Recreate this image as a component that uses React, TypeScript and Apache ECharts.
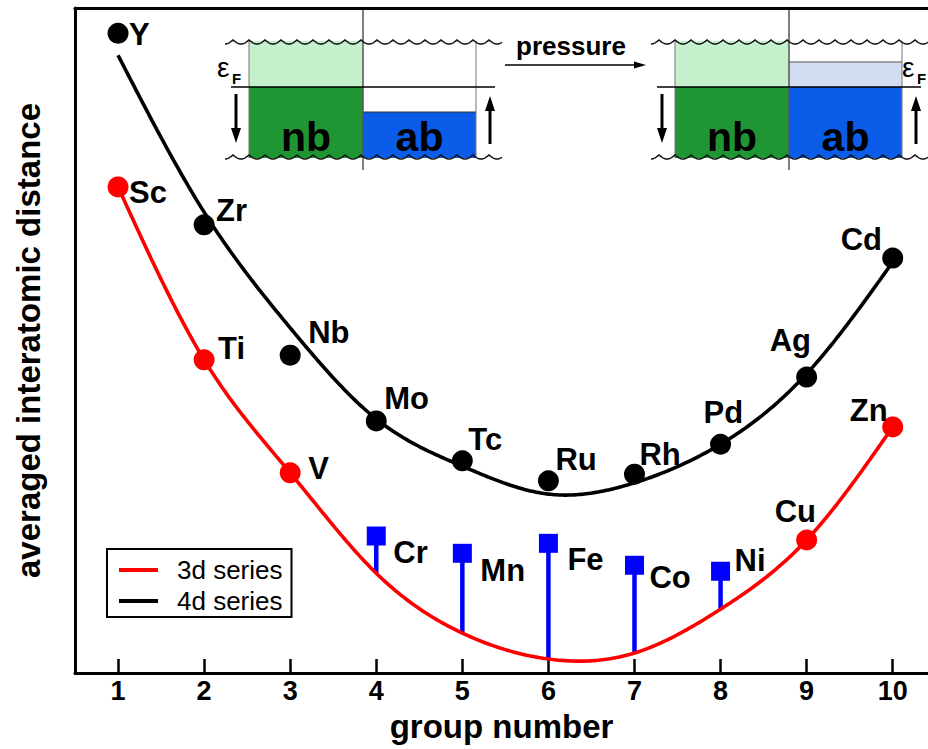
import React, { useEffect, useRef } from "react";
import * as echarts from "echarts";

// ---- data (arbitrary units of averaged interatomic distance) ----
const groups = [1, 2, 3, 4, 5, 6, 7, 8, 9, 10];
const tickLabels = ["1", "2", "3", "4", "5", "6", "7", "8", "9", "10"];

// measured points
const d4Names = ["Y", "Zr", "Nb", "Mo", "Tc", "Ru", "Rh", "Pd", "Ag", "Cd"];
const d4Values = [96.2, 67.4, 47.8, 37.9, 31.9, 28.9, 29.9, 34.4, 44.5, 62.4];

const d3Names = ["Sc", "Ti", "V", "Cu", "Zn"];
const d3Groups = [1, 2, 3, 9, 10];
const d3Values = [73.1, 47.1, 30.1, 20.0, 37.0];

const magNames = ["Cr", "Mn", "Fe", "Co", "Ni"];
const magGroups = [4, 5, 6, 7, 8];
const magValues = [20.6, 18.0, 19.5, 16.2, 15.3];

// trend curves (read at each group number)
const d4Fit = [92.9, 69.3, 51.9, 38.2, 31.1, 26.9, 28.6, 34.4, 45.0, 61.8];
const d3Fit = [73.1, 47.1, 30.1, 15.0, 6.0, 2.1, 3.0, 9.6, 20.0, 37.0];

// label placement: [left edge of text relative to marker centre, vertical shift]
const d4LabelPos: Record<string, [number, number]> = {
  Y: [11, 0], Zr: [12, -15], Nb: [18, -24], Mo: [8, -23], Tc: [6, -22],
  Ru: [7, -22], Rh: [5, -21], Pd: [-17, -33], Ag: [-37, -38], Cd: [-52, -20],
};
const d3LabelPos: Record<string, [number, number]> = {
  Sc: [11, 5], Ti: [14, -12], V: [18, -5], Cu: [-32, -30], Zn: [-43, -17],
};
const magLabelPos: Record<string, [number, number]> = {
  Cr: [17, 15], Mn: [18, 16], Fe: [19, 15], Co: [15, 11], Ni: [14, -12],
};

const FONT = "'Liberation Sans', Arial, Helvetica, sans-serif";
const RED = "#ff0000";
const BLUE = "#0000ff";
const X_MIN = 0.5;
const X_MAX = 10.41;

// natural cubic spline through pixel points (x increasing), sampled for drawing
function splinePath(px: number[][]) {
  const n = px.length;
  const xs = px.map((p) => p[0]);
  const ys = px.map((p) => p[1]);
  const h: number[] = [];
  const al: number[] = [0];
  const l: number[] = [1];
  const mu: number[] = [0];
  const z: number[] = [0];
  for (let i = 0; i < n - 1; i++) h[i] = xs[i + 1] - xs[i];
  for (let i = 1; i < n - 1; i++) al[i] = (3 / h[i]) * (ys[i + 1] - ys[i]) - (3 / h[i - 1]) * (ys[i] - ys[i - 1]);
  for (let i = 1; i < n - 1; i++) {
    l[i] = 2 * (xs[i + 1] - xs[i - 1]) - h[i - 1] * mu[i - 1];
    mu[i] = h[i] / l[i];
    z[i] = (al[i] - h[i - 1] * z[i - 1]) / l[i];
  }
  const c = new Array(n).fill(0);
  const b: number[] = [];
  const d: number[] = [];
  for (let j = n - 2; j >= 0; j--) {
    c[j] = z[j] - mu[j] * c[j + 1];
    b[j] = (ys[j + 1] - ys[j]) / h[j] - (h[j] * (c[j + 1] + 2 * c[j])) / 3;
    d[j] = (c[j + 1] - c[j]) / (3 * h[j]);
  }
  const out: number[][] = [];
  for (let j = 0; j < n - 1; j++) {
    for (let t = 0; t < h[j]; t += 2) out.push([xs[j] + t, ys[j] + b[j] * t + c[j] * t * t + d[j] * t * t * t]);
  }
  out.push([xs[n - 1], ys[n - 1]]);
  return out;
}

function curveSeries(name: string, values: number[], color: string) {
  return {
    name,
    type: "custom",
    z: 3,
    itemStyle: { color },
    data: groups.map((g, i) => [g, values[i]]),
    renderItem: (params: any, api: any) => {
      if (params.dataIndex !== 0) return null;
      const pts: number[][] = [];
      for (let k = 0; k < groups.length; k++) pts.push(api.coord([api.value(0, k), api.value(1, k)]));
      return {
        type: "polyline",
        shape: { points: splinePath(pts) },
        style: { stroke: color, lineWidth: 3.6, fill: null, lineJoin: "round" },
      };
    },
  };
}

function wave(x0: number, x1: number, y0: number) {
  const pts: number[][] = [];
  const P = 16;
  const A = 4;
  for (let x = x0; x <= x1; x += 0.5) {
    pts.push([x, y0 + A * Math.abs(Math.sin((Math.PI * (x - x0 - 8)) / P))]);
  }
  return pts;
}

function arrow(x: number, yFrom: number, yTo: number) {
  const dir = yTo > yFrom ? 1 : -1;
  return [
    { type: "line", shape: { x1: x, y1: yFrom, x2: x, y2: yTo - dir * 12 }, style: { stroke: "#000", lineWidth: 3 } },
    { type: "polygon", shape: { points: [[x - 5, yTo - dir * 15], [x + 5, yTo - dir * 15], [x, yTo]] }, style: { fill: "#000" } },
  ];
}

function diagram(dx: number, pressed: boolean, epsX: number) {
  const L = 249 + dx, M = 363 + dx, R = 476 + dx;
  const els: any[] = [];
  els.push({ type: "rect", shape: { x: L, y: 41, width: M - L, height: 46 }, style: { fill: "#c4f0cc" } });
  els.push({ type: "rect", shape: { x: L, y: 87, width: M - L, height: 71 }, style: { fill: "#1f9633" } });
  if (pressed) {
    els.push({ type: "rect", shape: { x: M, y: 62, width: R - M, height: 25 }, style: { fill: "#d3ddf2" } });
    els.push({ type: "line", shape: { x1: M, y1: 62, x2: R, y2: 62 }, style: { stroke: "#888", lineWidth: 1.5 } });
    els.push({ type: "rect", shape: { x: M, y: 87, width: R - M, height: 71 }, style: { fill: "#0b5ce8" } });
  } else {
    els.push({ type: "rect", shape: { x: M, y: 112, width: R - M, height: 46 }, style: { fill: "#0b5ce8" } });
    els.push({ type: "line", shape: { x1: M, y1: 112, x2: R, y2: 112 }, style: { stroke: "#333", lineWidth: 1.2 } });
  }
  els.push({ type: "line", shape: { x1: L, y1: 41, x2: L, y2: 158 }, style: { stroke: "#777", lineWidth: 1 } });
  els.push({ type: "line", shape: { x1: R, y1: 41, x2: R, y2: 158 }, style: { stroke: "#777", lineWidth: 1 } });
  els.push({ type: "line", shape: { x1: M, y1: 8, x2: M, y2: 170 }, style: { stroke: "#555", lineWidth: 1.5 } });
  els.push({ type: "line", shape: { x1: 231 + dx, y1: 87, x2: 495 + dx, y2: 87 }, style: { stroke: "#000", lineWidth: 1.5 } });
  const wEnd = Math.min(502 + dx, 930);
  els.push({ type: "polyline", shape: { points: wave(225 + dx, wEnd, 40) }, style: { stroke: "#111", lineWidth: 1.5, fill: null } });
  els.push({ type: "polyline", shape: { points: wave(225 + dx, wEnd, 155) }, style: { stroke: "#111", lineWidth: 1.5, fill: null } });
  els.push(...arrow(236 + dx, 94, 143));
  els.push(...arrow(490 + dx, 144, 96));
  els.push({ type: "text", x: (L + M) / 2, y: 137, style: { text: "nb", font: `bold 41px ${FONT}`, fill: "#000", align: "center", verticalAlign: "middle" } });
  els.push({ type: "text", x: (M + R) / 2, y: 137, style: { text: "ab", font: `bold 41px ${FONT}`, fill: "#000", align: "center", verticalAlign: "middle" } });
  els.push({ type: "text", x: epsX, y: 67, style: { text: "ε", font: `28px ${FONT}`, fill: "#000", align: "left", verticalAlign: "middle" } });
  els.push({ type: "text", x: epsX + 15, y: 78, style: { text: "F", font: `bold 15px ${FONT}`, fill: "#000", align: "left", verticalAlign: "middle" } });
  return els;
}

function labelFor(pos: [number, number], half: number) {
  return {
    show: true,
    position: "right",
    distance: 0,
    offset: [pos[0] - half, pos[1] + 1],
    fontFamily: FONT,
    fontWeight: "bold",
    fontSize: 31,
    color: "#000",
  };
}

export default function App() {
  const ref = useRef<HTMLDivElement>(null);
  useEffect(() => {
    if (!ref.current) return;
    const chart = echarts.init(ref.current, null, { renderer: "svg" });

    const option: any = {
      animation: false,
      backgroundColor: "#fff",
      grid: { left: 75, right: 0, top: 8, bottom: 76, show: false },
      legend: {
        data: [
          { name: "3d series", icon: "path://M0 0H39V4H0Z" },
          { name: "4d series", icon: "path://M0 0H39V4H0Z" },
        ],
        orient: "vertical",
        left: 107,
        top: 549,
        padding: [8, 9, 3, 12],
        borderColor: "#000",
        borderWidth: 2,
        itemWidth: 39,
        itemHeight: 4,
        itemGap: 5,
        textStyle: { fontFamily: FONT, fontSize: 26, color: "#000", padding: [0, 0, 0, 14], lineHeight: 26 },
      },
      xAxis: [
        {
          type: "value",
          min: X_MIN,
          max: X_MAX,
          name: "group number",
          nameLocation: "middle",
          nameGap: 37,
          nameTextStyle: { fontFamily: FONT, fontWeight: "bold", fontSize: 33, color: "#000" },
          axisLine: { show: true, lineStyle: { color: "#000", width: 3 } },
          axisTick: { show: true, inside: true, length: 14, customValues: groups, lineStyle: { color: "#000", width: 2.5 } },
          axisLabel: {
            customValues: groups,
            formatter: (v: number) => tickLabels[groups.indexOf(v)] ?? "",
            fontFamily: FONT,
            fontWeight: "bold",
            fontSize: 27,
            color: "#000",
            margin: 4,
          },
          splitLine: { show: false },
        },
        {
          type: "value",
          position: "top",
          min: X_MIN,
          max: X_MAX,
          axisLine: { show: true, lineStyle: { color: "#000", width: 3 } },
          axisTick: { show: false },
          axisLabel: { show: false },
          splitLine: { show: false },
        },
      ],
      yAxis: {
        type: "value",
        min: 0,
        max: 100,
        name: "averaged interatomic distance",
        nameLocation: "middle",
        nameGap: 30,
        nameTextStyle: { fontFamily: FONT, fontWeight: "bold", fontSize: 33, color: "#000" },
        axisLine: { show: true, lineStyle: { color: "#000", width: 3 } },
        axisTick: { show: false },
        axisLabel: { show: false },
        splitLine: { show: false },
      },
      series: [
        {
          name: "Cr–Ni stems",
          type: "custom",
          z: 2,
          data: magGroups.map((g, i) => [g, magValues[i], d3Fit[groups.indexOf(g)]]),
          renderItem: (_p: any, api: any) => {
            const a = api.coord([api.value(0), api.value(1)]);
            const b = api.coord([api.value(0), api.value(2)]);
            return { type: "line", shape: { x1: a[0], y1: a[1], x2: b[0], y2: b[1] }, style: { stroke: BLUE, lineWidth: 4.5 } };
          },
        },
        curveSeries("3d series", d3Fit, RED),
        curveSeries("4d series", d4Fit, "#000"),
        {
          name: "3d elements",
          type: "scatter",
          z: 4,
          symbol: "circle",
          symbolSize: 21,
          itemStyle: { color: RED, opacity: 1 },
          data: d3Groups.map((g, i) => ({ value: [g, d3Values[i]], name: d3Names[i], label: labelFor(d3LabelPos[d3Names[i]], 10.5) })),
          label: { show: true, formatter: "{b}" },
        },
        {
          name: "4d elements",
          type: "scatter",
          z: 4,
          symbol: "circle",
          symbolSize: 21,
          itemStyle: { color: "#000", opacity: 1 },
          data: groups.map((g, i) => ({ value: [g, d4Values[i]], name: d4Names[i], label: labelFor(d4LabelPos[d4Names[i]], 10.5) })),
          label: { show: true, formatter: "{b}" },
        },
        {
          name: "magnetic 3d elements",
          type: "scatter",
          z: 4,
          symbol: "rect",
          symbolSize: 19,
          itemStyle: { color: BLUE, opacity: 1 },
          data: magGroups.map((g, i) => ({ value: [g, magValues[i]], name: magNames[i], label: labelFor(magLabelPos[magNames[i]], 9.5) })),
          label: { show: true, formatter: "{b}" },
        },
      ],
      graphic: [
        ...diagram(0, false, 217),
        ...diagram(426, true, 902),
        { type: "text", x: 571, y: 46, style: { text: "pressure", font: `bold 26px ${FONT}`, fill: "#000", align: "center", verticalAlign: "middle" } },
        { type: "line", shape: { x1: 505, y1: 65, x2: 638, y2: 65 }, style: { stroke: "#000", lineWidth: 1.5 } },
        { type: "polygon", shape: { points: [[634, 61.5], [646, 65], [634, 68.5]] }, style: { fill: "#000" } },
      ],
    };
    chart.setOption(option);
    return () => chart.dispose();
  }, []);
  return <div ref={ref} style={{ width: 928, height: 749, position: "absolute", left: 0, top: 0 }} />;
}
